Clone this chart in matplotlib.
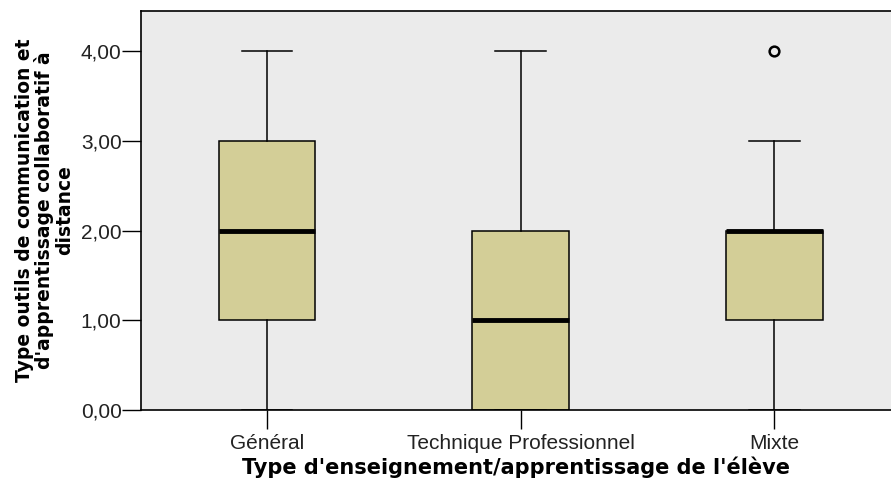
import matplotlib.pyplot as plt

# groups and box statistics
categories = ["Général", "Technique Professionnel", "Mixte"]
q1 = [1.0, 0.0, 1.0]
median = [2.0, 1.0, 2.0]
q3 = [3.0, 2.0, 2.0]
whisker_low = [0.0, 0.0, 0.0]
whisker_high = [4.0, 4.0, 3.0]
outliers = [[], [], [4.0]]
yticks = [0, 1, 2, 3, 4]

plt.rcParams['font.family'] = ['Liberation Sans', 'DejaVu Sans']

stats = []
for i, name in enumerate(categories):
    stats.append({
        'label': name,
        'q1': q1[i], 'med': median[i], 'q3': q3[i],
        'whislo': whisker_low[i], 'whishi': whisker_high[i],
        'fliers': outliers[i],
    })

fig = plt.figure(figsize=(8.91, 4.84), dpi=100)
ax = fig.add_axes([0.1582, 0.1529, 0.8418, 0.8244])
ax.set_facecolor('#EBEBEB')

ax.bxp(stats, positions=[1, 2, 3], widths=0.38, patch_artist=True,
       boxprops=dict(facecolor='#D3CE97', edgecolor='black', linewidth=1.1),
       medianprops=dict(color='black', linewidth=3.5),
       whiskerprops=dict(color='black', linewidth=1.1),
       capprops=dict(color='black', linewidth=1.1),
       capwidths=0.2,
       flierprops=dict(marker='o', markerfacecolor='none', markeredgecolor='black',
                       markersize=7, markeredgewidth=1.8))

ax.set_xlim(0.503, 3.46)
ax.set_ylim(0, 4.446)
ax.set_yticks(yticks)
ax.set_yticklabels([f"{v:.2f}".replace('.', ',') for v in yticks])
ax.tick_params(axis='both', length=14, width=1, labelsize=15, colors='black', pad=0)
ax.tick_params(axis='x', pad=3)
for lbl in ax.get_xticklabels() + ax.get_yticklabels():
    lbl.set_color('#222222')

for side in ['left', 'bottom', 'top']:
    ax.spines[side].set_linewidth(1.2)
ax.spines['right'].set_visible(False)

ax.set_xlabel("Type d'enseignement/apprentissage de l'élève", fontsize=15,
              fontweight='bold', family='DejaVu Sans', labelpad=3)
ax.set_ylabel("Type outils de communication et\nd'apprentissage collaboratif à\ndistance",
              fontsize=13.5, fontweight='bold', family='DejaVu Sans',
              linespacing=1.02, labelpad=5)

fig.savefig('out.png', dpi=100)
